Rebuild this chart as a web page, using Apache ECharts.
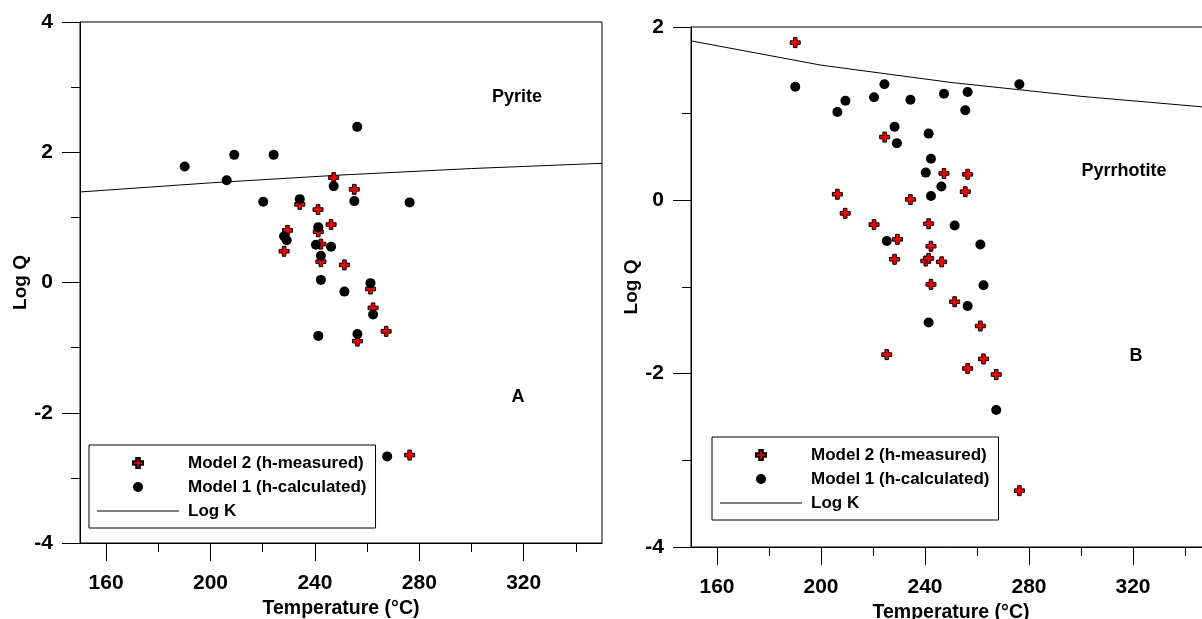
<!DOCTYPE html>
<html>
<head>
<meta charset="utf-8">
<script src="https://cdn.jsdelivr.net/npm/echarts@6/dist/echarts.min.js"></script>
<style>
  html, body { margin: 0; padding: 0; background: #fff; }
  #chart { width: 1202px; height: 619px; }
</style>
</head>
<body>
<div id="chart"></div>
<script>
// ---------- data ----------
const seriesNames = ['Model 2 (h-measured)', 'Model 1 (h-calculated)', 'Log K'];
const xMajorTicks = [160, 200, 240, 280, 320];
const xMinorTicks = [180, 220, 260, 300, 340];

// Panel A: Pyrite  [Temperature °C, Log Q]
const pyriteModel2 = [
  [247.2, 1.61], [255.1, 1.43], [234.2, 1.20], [241.2, 1.12], [241.3, 0.78],
  [246.2, 0.89], [229.5, 0.80], [228.2, 0.48], [242.3, 0.59], [242.3, 0.32],
  [251.3, 0.27], [261.3, -0.10], [262.3, -0.39], [267.3, -0.75], [256.3, -0.90],
  [276.3, -2.65]
];
const pyriteModel1 = [
  [190.1, 1.78], [209.1, 1.96], [224.2, 1.96], [206.2, 1.57], [220.2, 1.24],
  [234.2, 1.28], [247.2, 1.48], [256.2, 2.39], [255.1, 1.25], [276.3, 1.23],
  [241.3, 0.85], [228.2, 0.71], [229.2, 0.65], [240.4, 0.58], [246.2, 0.55],
  [242.3, 0.41], [242.3, 0.04], [251.3, -0.14], [261.3, -0.01], [262.3, -0.49],
  [241.3, -0.82], [256.3, -0.79], [267.7, -2.67]
];
const pyriteLogKT = [150, 200, 250, 300, 350];
const pyriteLogK = [1.39, 1.53, 1.65, 1.75, 1.83];

// Panel B: Pyrrhotite  [Temperature °C, Log Q]
const pyrrhotiteModel2 = [
  [190.1, 1.82], [224.5, 0.73], [206.3, 0.07], [209.3, -0.15], [234.4, 0.01],
  [247.3, 0.31], [256.4, 0.30], [255.5, 0.10], [220.4, -0.28], [241.4, -0.27],
  [229.4, -0.45], [242.3, -0.53], [228.3, -0.68], [240.3, -0.70], [241.4, -0.67],
  [246.4, -0.71], [242.3, -0.97], [251.4, -1.17], [261.3, -1.45], [225.3, -1.78],
  [262.5, -1.83], [256.4, -1.94], [267.4, -2.01], [276.3, -3.35]
];
const pyrrhotiteModel1 = [
  [190.1, 1.31], [206.3, 1.02], [209.4, 1.15], [220.4, 1.19], [224.4, 1.34],
  [234.4, 1.16], [228.3, 0.85], [229.2, 0.66], [241.4, 0.77], [242.3, 0.48],
  [240.3, 0.32], [242.3, 0.05], [247.3, 1.23], [256.4, 1.25], [255.5, 1.04],
  [246.3, 0.16], [276.3, 1.34], [251.4, -0.29], [225.3, -0.47], [261.3, -0.51],
  [262.5, -0.98], [256.4, -1.22], [241.4, -1.41], [267.4, -2.42]
];
const pyrrhotiteLogKT = [150, 200, 250, 300, 350];
const pyrrhotiteLogK = [1.84, 1.56, 1.36, 1.20, 1.07];

// ---------- chart ----------
const FONT = '"Liberation Sans", Arial, Helvetica, sans-serif';
const crossSymbol = 'path://M3.2,0H6.8V3.2H10V6.8H6.8V10H3.2V6.8H0V3.2H3.2Z';
const lineIcon = 'path://M0,0H82V1H0Z';

function zip(xs, ys) { return xs.map((x, i) => [x, ys[i]]); }

function majorXAxis(gridIndex) {
  return {
    type: 'value', gridIndex: gridIndex, position: 'bottom', offset: 0, min: 150, max: 350,
    name: 'Temperature (°C)', nameLocation: 'middle', nameGap: 50,
    nameTextStyle: { fontFamily: FONT, fontWeight: 'bold', fontSize: 19.5, color: '#000' },
    axisLine: { show: true, onZero: false, lineStyle: { color: '#000', width: 1 } },
    axisTick: { show: true, inside: false, length: 18, customValues: xMajorTicks, lineStyle: { color: '#000', width: 1 } },
    axisLabel: { show: true, customValues: xMajorTicks, margin: 30, fontFamily: FONT, fontWeight: 'bold', fontSize: 21, color: '#000' },
    splitLine: { show: false }
  };
}
function minorXAxis(gridIndex) {
  return {
    type: 'value', gridIndex: gridIndex, position: 'bottom', offset: 0, min: 150, max: 350,
    axisLine: { show: false, onZero: false },
    axisTick: { show: true, inside: false, length: 9, customValues: xMinorTicks, lineStyle: { color: '#000', width: 1 } },
    axisLabel: { show: false },
    splitLine: { show: false }
  };
}
function yAxis(gridIndex, min, max) {
  return {
    type: 'value', gridIndex: gridIndex, min: min, max: max, interval: 2,
    name: 'Log Q', nameLocation: 'middle', nameGap: 50,
    nameTextStyle: { fontFamily: FONT, fontWeight: 'bold', fontSize: 19, color: '#000' },
    axisLine: { show: true, onZero: false, lineStyle: { color: '#000', width: 1 } },
    axisTick: { show: true, inside: false, length: 18, lineStyle: { color: '#000' } },
    minorTick: { show: true, splitNumber: 2, length: 9, lineStyle: { color: '#000' } },
    axisLabel: { margin: 27, fontFamily: FONT, fontWeight: 'bold', fontSize: 21, color: '#000' },
    splitLine: { show: false },
    minorSplitLine: { show: false }
  };
}
function panelSeries(xIdx, yIdx, model2, model1, kT, kV) {
  return [
    {
      name: seriesNames[2], type: 'line', xAxisIndex: xIdx, yAxisIndex: yIdx,
      data: zip(kT, kV), symbol: 'none', showSymbol: false, smooth: false,
      lineStyle: { color: '#000', width: 1 }, itemStyle: { color: '#000' }, z: 2
    },
    {
      name: seriesNames[0], type: 'scatter', xAxisIndex: xIdx, yAxisIndex: yIdx,
      data: model2, symbol: crossSymbol, symbolSize: 10,
      itemStyle: { color: '#ee0000', borderColor: '#000', borderWidth: 1, opacity: 1 }, z: 3
    },
    {
      name: seriesNames[1], type: 'scatter', xAxisIndex: xIdx, yAxisIndex: yIdx,
      data: model1, symbol: 'circle', symbolSize: 10,
      itemStyle: { color: '#000', opacity: 1 }, z: 4
    }
  ];
}
function legend(left, top) {
  return {
    show: true, orient: 'vertical', left: left, top: top,
    data: [
      { name: seriesNames[0] },
      { name: seriesNames[1] },
      { name: seriesNames[2], icon: lineIcon }
    ],
    itemWidth: 82, itemHeight: 10, itemGap: 6,
    padding: [9, 9, 8, 8],
    borderColor: '#000', borderWidth: 1, backgroundColor: '#fff',
    selectedMode: false,
    textStyle: { fontFamily: FONT, fontWeight: 'bold', fontSize: 17, color: '#000', lineHeight: 18, padding: [0, 0, 0, 4] }
  };
}
function label(text, x, y, size) {
  return {
    type: 'text', x: x, y: y, z: 100,
    style: { text: text, font: 'bold ' + size + 'px ' + FONT, fill: '#000', align: 'center', verticalAlign: 'middle' }
  };
}

const chart = echarts.init(document.getElementById('chart'), null, { renderer: 'canvas' });
chart.setOption({
  backgroundColor: '#fff',
  animation: false,
  grid: [
    { left: 80, top: 22, width: 522, height: 521, containLabel: false, outerBoundsMode: 'none',
      show: true, borderColor: '#000', borderWidth: 1, backgroundColor: 'transparent' },
    { left: 691, top: 27, width: 520, height: 520, containLabel: false, outerBoundsMode: 'none',
      show: true, borderColor: '#000', borderWidth: 1, backgroundColor: 'transparent' }
  ],
  xAxis: [majorXAxis(0), minorXAxis(0), majorXAxis(1), minorXAxis(1)],
  yAxis: [yAxis(0, -4, 4), yAxis(1, -4, 2)],
  legend: [legend(89, 445), legend(712, 437)],
  series: [].concat(
    panelSeries(0, 0, pyriteModel2, pyriteModel1, pyriteLogKT, pyriteLogK),
    panelSeries(2, 1, pyrrhotiteModel2, pyrrhotiteModel1, pyrrhotiteLogKT, pyrrhotiteLogK)
  ),
  graphic: [
    label('Pyrite', 517, 97, 18),
    label('A', 518, 397, 18),
    label('Pyrrhotite', 1124, 171, 18),
    label('B', 1136, 356, 18)
  ]
});
</script>
</body>
</html>
